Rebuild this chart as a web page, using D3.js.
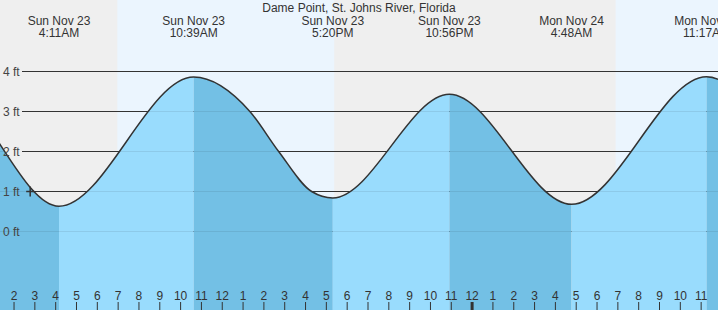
<!DOCTYPE html>
<html>
<head>
<meta charset="utf-8">
<script src="https://cdn.jsdelivr.net/npm/d3@7"></script>
<style>
  body { margin: 0; background: #fff; }
  svg { display: block; font-family: "Liberation Sans", Arial, sans-serif; }
</style>
</head>
<body>
<script>
var w = 718,
  h = 310;

// tide extremes (the first two and last two sit outside the visible window)
var tideTimes = ["2025-11-22T16:35", "2025-11-22T22:48", "2025-11-23T04:11", "2025-11-23T10:39", "2025-11-23T17:20",
  "2025-11-23T22:56", "2025-11-24T04:48", "2025-11-24T11:17", "2025-11-24T17:45", "2025-11-24T23:40"];
var tideHeights = [0.85, 3.5, 0.63, 3.86, 0.84, 3.43, 0.68, 3.87, 0.9, 3.4];
var tideTypes = ["L", "H", "L", "H", "L", "H", "L", "H", "L", "H"];

// extra readings off the curve between extremes
var readTimes = ["2025-11-23T13:21", "2025-11-23T14:44", "2025-11-23T16:19"];
var readHeights = [3.0, 2.0, 1.0];

// daylight spans
var sunrise = ["2025-11-23T06:59", "2025-11-24T06:55"];
var sunset = ["2025-11-23T17:24", "2025-11-24T17:25"];

var feetTicks = [0, 1, 2, 3, 4];
var nowTime = "2025-11-23T02:48",
  nowHeight = 1.0;

var parse = d3.timeParse("%Y-%m-%dT%H:%M");
var tides = tideTimes.map((t, i) => ({ time: parse(t), ft: tideHeights[i], type: tideTypes[i] }));
var curvePts = tides.concat(readTimes.map((t, i) => ({ time: parse(t), ft: readHeights[i] })))
  .sort((a, b) => a.time - b.time);

var xScale = d3.scaleTime()
  .domain([parse("2025-11-23T01:21"), parse("2025-11-24T11:50")])
  .range([0, w]);
var yScale = d3.scaleLinear().domain([0, 4]).range([231.5, 71.5]);

var svg = d3.select("body").append("svg")
  .attr("width", w)
  .attr("height", h);

// night / day background
svg.append("rect").attr("width", w).attr("height", h).attr("fill", "#efefef");
sunrise.forEach((s, i) => {
  var x0 = xScale(parse(s)), x1 = xScale(parse(sunset[i]));
  svg.append("rect")
    .attr("x", x0).attr("y", 0)
    .attr("width", x1 - x0).attr("height", h)
    .attr("fill", "#ebf5fe");
});

// grid lines
svg.selectAll(".grid")
  .data(feetTicks)
  .enter().append("line")
  .attr("x1", 22).attr("x2", w)
  .attr("y1", d => yScale(d)).attr("y2", d => yScale(d))
  .attr("stroke", "#333").attr("stroke-width", 1);

// water
var area = d3.area()
  .x(d => xScale(d.time))
  .y0(h)
  .y1(d => yScale(d.ft))
  .curve(d3.curveMonotoneX);

svg.append("clipPath").attr("id", "water")
  .append("path").attr("d", area(curvePts));

var waterG = svg.append("g").attr("clip-path", "url(#water)");
for (var i = 0; i < tides.length - 1; i++) {
  var a = xScale(tides[i].time), b = xScale(tides[i + 1].time);
  // falling tide darker, rising tide lighter
  waterG.append("rect")
    .attr("x", a).attr("y", 0)
    .attr("width", b - a).attr("height", h)
    .attr("fill", tides[i].type == "H" ? "#73c0e5" : "#99dcfd");
}
// faint grid through the water
waterG.selectAll(".grid2")
  .data(feetTicks)
  .enter().append("line")
  .attr("x1", 0).attr("x2", w)
  .attr("y1", d => yScale(d)).attr("y2", d => yScale(d))
  .attr("stroke", "#000").attr("stroke-opacity", 0.08);

var line = d3.line()
  .x(d => xScale(d.time))
  .y(d => yScale(d.ft))
  .curve(d3.curveMonotoneX);

svg.append("path")
  .attr("d", line(curvePts))
  .attr("fill", "none")
  .attr("stroke", "#333")
  .attr("stroke-width", 1.5);

// now marker
var nx = xScale(parse(nowTime)), ny = yScale(nowHeight);
svg.append("path")
  .attr("d", `M${nx - 4},${ny}H${nx + 4}M${nx},${ny - 5}V${ny + 5}`)
  .attr("stroke", "#333").attr("stroke-width", 1.5);

// y labels
svg.selectAll(".ylab")
  .data(feetTicks)
  .enter().append("text")
  .attr("x", 3)
  .attr("y", d => yScale(d) + 4)
  .attr("fill", "#444")
  .style("font-size", "12px")
  .text(d => d + " ft");

// title
svg.append("text")
  .attr("x", 359).attr("y", 12)
  .attr("text-anchor", "middle")
  .attr("fill", "#333")
  .style("font-size", "12px")
  .text("Dame Point, St. Johns River, Florida");

// tide event labels
var fmtDay = d3.timeFormat("%a %b %-d"),
  fmtTime = d3.timeFormat("%-I:%M%p");
var shown = tides.filter(d => xScale(d.time) > 0 && xScale(d.time) < w);
var lab = svg.selectAll(".tlab")
  .data(shown)
  .enter().append("text")
  .attr("text-anchor", "middle")
  .attr("fill", "#333")
  .style("font-size", "12px");
lab.append("tspan")
  .attr("x", d => xScale(d.time)).attr("y", 25)
  .text(d => fmtDay(d.time));
lab.append("tspan")
  .attr("x", d => xScale(d.time)).attr("y", 37)
  .text(d => fmtTime(d.time));

// hour axis
var xAxis = d3.axisBottom(xScale)
  .ticks(d3.timeHour.every(1))
  .tickFormat(d3.timeFormat("%-I"))
  .tickSizeInner(8)
  .tickSizeOuter(0);
var gx = svg.append("g")
  .attr("transform", `translate(0, 302)`)
  .call(xAxis);
gx.select(".domain").remove();
gx.selectAll(".tick line")
  .attr("stroke", "#333")
  .attr("stroke-width", d => d.getHours() == 0 ? 3 : 1);
gx.selectAll(".tick text")
  .attr("y", -2)
  .attr("dy", 0)
  .attr("fill", "#333")
  .style("font-size", "12px")
  .style("font-family", "'Liberation Sans', Arial, sans-serif");
</script>
</body>
</html>
